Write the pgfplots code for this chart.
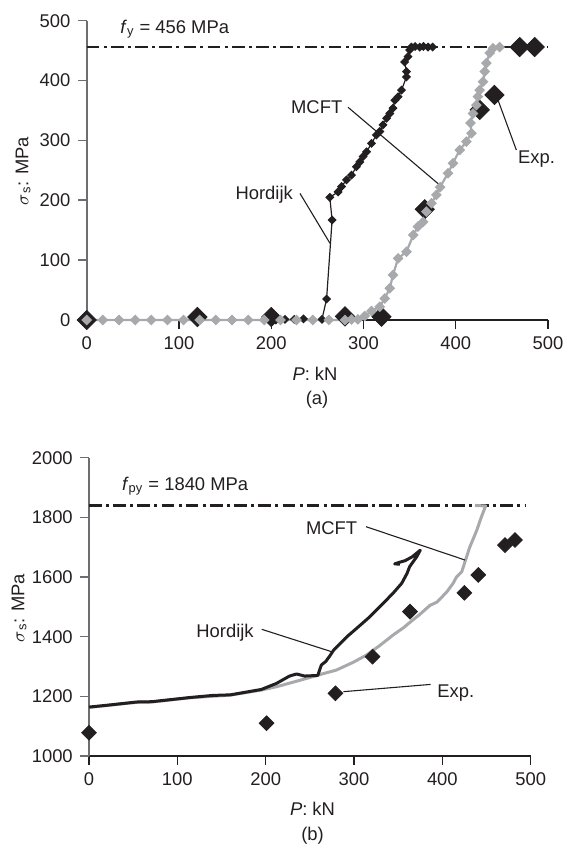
\documentclass[border=0pt]{standalone}
\usepackage{fontspec}
\setmainfont{Liberation Sans}
\usepackage{pgfplots}
\pgfplotsset{compat=1.18}
\definecolor{chBlack}{HTML}{231F20}
\definecolor{chGray}{HTML}{A7A9AC}
\definecolor{chAxis}{HTML}{6D6E71}
\newcommand{\lbl}{\fontsize{9.2}{11}\selectfont}

\pgfplotsset{
  sigmaplot/.style={
    scale only axis,
    clip=false,
    axis x line*=bottom,
    axis y line*=left,
    x axis line style={-, chBlack, line width=0.6pt},
    y axis line style={-, chAxis, line width=0.8pt},
    tick align=outside,
    major tick length=4.6pt,
    x tick style={chBlack, line width=0.6pt},
    y tick style={chAxis, line width=0.8pt},
    minor tick num=0,
    tick label style={font=\lbl, text=chBlack},
    /pgf/number format/assume math mode=true,
    /pgf/number format/1000 sep={},
    xmin=0, xmax=500,
    xtick={0,100,200,300,400,500},
  },
}
\tikzset{
  yieldline/.style={chBlack, line width=1.3pt,
    dash pattern=on 6.3pt off 2.15pt on 1.5pt off 2.15pt},
  leader/.style={chBlack, line width=0.55pt},
}

\begin{document}
\begin{tikzpicture}
\path[use as bounding box] (0,0) rectangle (282.5pt,422.5pt);

% (a) reinforcing bar
\begin{axis}[sigmaplot,
  at={(43.35pt,262.5pt)}, anchor=south west,
  width=230.65pt, height=149.65pt,
  ymin=0, ymax=500, ytick={0,100,200,300,400,500}]

  \addplot[yieldline] coordinates {(0,456) (500,456)};

  % Exp.
  \addplot[only marks, mark=square*, mark size=3.4pt,
    mark options={rotate=45, fill=chBlack, draw=chBlack}]
    coordinates {(0,0) (120,5) (200,5) (280,6) (319.5,5.5) (366.4,185)
      (426,351) (442,376) (469.3,456) (485.6,456)};

  % Hordijk
  \addplot[chBlack, line width=0.6pt, mark=square*, mark size=1.3pt,
    mark options={rotate=45, fill=chBlack, draw=chBlack}]
    coordinates {(0,0) (17.5,0) (35,0) (52.5,0) (70,0) (87.5,0) (105,0)
      (122.5,0) (140,0) (157.5,0) (175,0) (192.5,0) (205,0) (215,1)
      (225,1) (235,2) (245,0) (255,1) (260,35) (266,167) (263.5,205)
      (272.5,214) (276.2,223) (281.6,234) (287,242) (292.4,256) (296,264)
      (299.6,273) (303.3,281) (308.7,295) (314,309) (317.7,315) (321.2,326)
      (325,337) (328.5,345) (332,354) (334,367) (337.5,373) (341.2,384)
      (346.6,406) (346.6,415) (344.7,431) (348.3,440) (350,451) (352,456)
      (356,457) (361,456) (365,457) (370,456) (375,456)};

  % MCFT
  \addplot[chGray, line width=1.1pt, mark=square*, mark size=1.35pt,
    mark options={rotate=45, fill=chGray, draw=chGray}]
    coordinates {(0,0) (17.5,0) (35,0) (52.5,0) (70,0) (87.5,0) (105,0)
      (122.5,0) (140,0) (157.5,0) (175,0) (192.5,0) (210,0) (227.5,0)
      (245,0) (262.5,0) (280,0) (287,1) (294,1) (301.4,6.7) (308.7,15)
      (317.6,22) (323,36) (328.5,53) (332,75) (337.5,103) (346.6,114)
      (354,142) (359,156) (364.6,164) (368.2,181) (373.7,195) (379,209)
      (383,222) (391.6,245) (397,262) (404.3,284) (411.6,298) (417,312)
      (416,329) (418.7,345) (422.4,359) (424,373) (426,384) (429.5,398)
      (431.4,415) (433.2,429) (436.8,446) (440.4,454) (447.6,456)};

  \node[anchor=base west, font=\lbl, text=chBlack] at (axis cs:28.8,479)
    {\textit{f}\textsubscript{y} = 456 MPa};
  \node[anchor=base, font=\lbl, text=chBlack] at (axis cs:249.3,345) {MCFT};
  \draw[leader] (axis cs:283.3,355.3) -- (axis cs:382.6,225.5);
  \node[anchor=base, font=\lbl, text=chBlack] at (axis cs:192.4,200.5) {Hordijk};
  \draw[leader] (axis cs:231.2,211.4) -- (axis cs:263.7,128.1);
  \node[anchor=base, font=\lbl, text=chBlack] at (axis cs:487.5,262) {Exp.};
  \draw[leader] (axis cs:465.7,284) -- (axis cs:445.8,367.5);
\end{axis}

% (b) prestressing strand
\begin{axis}[sigmaplot,
  at={(44.5pt,44.5pt)}, anchor=south west,
  width=220.85pt, height=149.15pt,
  ymin=1000, ymax=2000, ytick={1000,1200,1400,1600,1800,2000}]

  \addplot[yieldline] coordinates {(0,1840) (495,1840)};

  % MCFT
  \addplot[chGray, line width=1.5pt, line join=round] coordinates {
    (0,1163) (54,1180) (71,1181) (114,1195) (160,1204) (195,1221)
    (212,1232) (239,1254) (265,1276) (280,1288) (299,1314) (314,1338)
    (329,1370) (344,1405) (356,1430) (362,1445) (375,1476) (386,1505)
    (394,1516) (405,1550) (412,1578) (416,1600) (422,1618) (426,1655)
    (431,1700) (439,1757) (444,1800) (449,1838) (437,1840)};

  % Hordijk
  \addplot[chBlack, line width=1.5pt, line join=round] coordinates {
    (0,1164) (20,1170) (54,1181) (71,1182) (114,1196) (140,1203)
    (160,1205) (195,1223) (212,1243) (227,1268) (235,1275) (244,1268)
    (259,1270) (263,1305) (268,1317) (272,1333) (277,1355) (292,1400)
    (303,1428) (318,1467) (333,1512) (344,1545) (354,1579) (360,1612)
    (363,1635) (371,1668) (375,1690) (366,1668) (358,1655) (350,1648)
    (346,1644) (352,1643)};

  % Exp.
  \addplot[only marks, mark=square*, mark size=2.6pt,
    mark options={rotate=45, fill=chBlack, draw=chBlack}]
    coordinates {(0,1078) (201,1110) (279,1210) (321,1333) (363.4,1484)
      (424.9,1547) (440.7,1607) (470.9,1707) (482.2,1724)};

  \node[anchor=base west, font=\lbl, text=chBlack] at (axis cs:29.4,1889)
    {\textit{f}\textsubscript{py} = 1840 MPa};
  \node[anchor=base, font=\lbl, text=chBlack] at (axis cs:274.7,1744) {MCFT};
  \draw[leader] (axis cs:313.6,1768.7) -- (axis cs:425.6,1657);
  \node[anchor=base, font=\lbl, text=chBlack] at (axis cs:154,1398) {Hordijk};
  \draw[leader] (axis cs:195.5,1424.7) -- (axis cs:274.7,1349.6);
  \node[anchor=base, font=\lbl, text=chBlack] at (axis cs:415.3,1197) {Exp.};
  \draw[leader] (axis cs:386.7,1240) -- (axis cs:287.9,1215.6);
\end{axis}

% axis titles and panel letters
\node[font=\lbl, text=chBlack, rotate=90] at (11.5pt,337pt)
  {$\sigma$\textsubscript{s}: MPa};
\node[font=\lbl, text=chBlack] at (157.5pt,235.5pt) {\textit{P}: kN};
\node[font=\lbl, text=chBlack] at (158.5pt,222.5pt) {(a)};
\node[font=\lbl, text=chBlack, rotate=90] at (9.5pt,118.5pt)
  {$\sigma$\textsubscript{s}: MPa};
\node[font=\lbl, text=chBlack] at (156.25pt,18pt) {\textit{P}: kN};
\node[font=\lbl, text=chBlack] at (156.25pt,4.6pt) {(b)};
\end{tikzpicture}
\end{document}
